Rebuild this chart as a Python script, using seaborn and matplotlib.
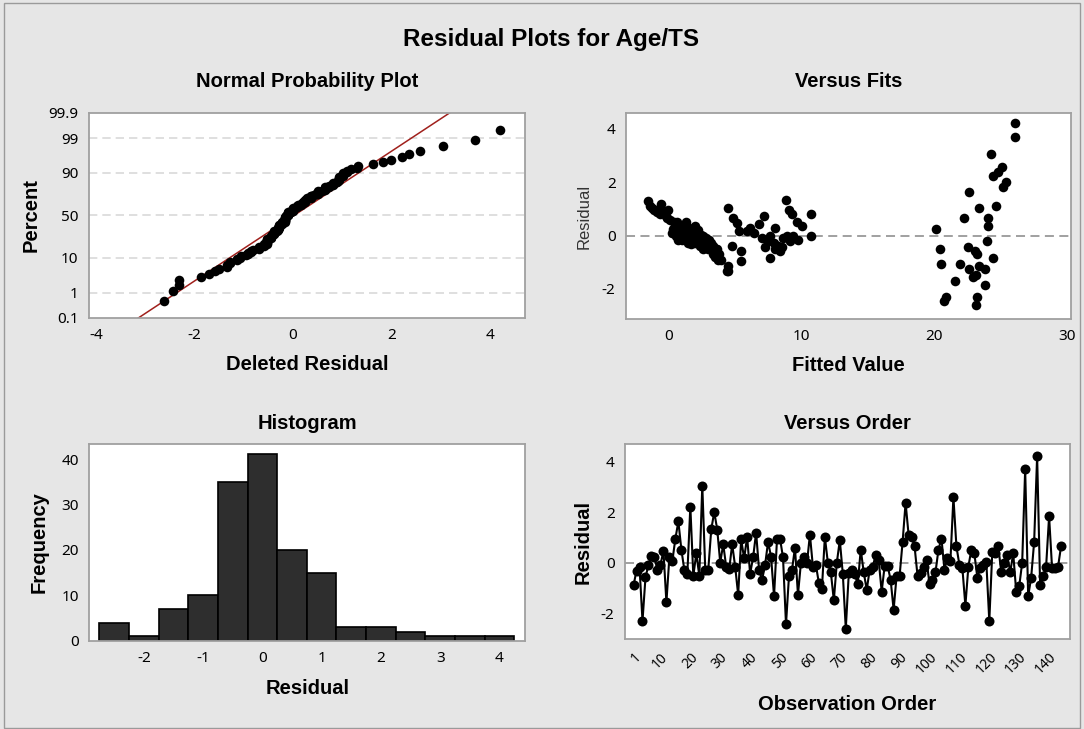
import numpy as np
import pandas as pd
import matplotlib
matplotlib.use("Agg")
import matplotlib.pyplot as plt
from matplotlib.patches import Rectangle
import seaborn as sns
from statistics import NormalDist

# ---------------- data ----------------
residual = [
    -0.90, -0.31, -0.16, -2.31, -0.58, -0.09, 0.27, 0.21, -0.27, -0.09,
    0.47, -1.57, 0.24, 0.08, 0.95, 1.63, 0.52, -0.29, -0.44, 2.22,
    -0.52, 0.37, -0.52, 3.05, -0.30, -0.28, 1.32, 2.00, 1.31, 0.00,
    0.73, -0.16, -0.26, 0.73, -0.16, -1.27, 0.92, 0.17, 1.02, -0.44,
    0.21, 1.19, -0.29, -0.68, -0.09, 0.82, 0.24, -1.33, 0.95, 0.95,
    0.21, -2.44, -0.52, -0.29, 0.59, -1.27, 0.00, 0.24, -0.03, 1.11,
    -0.16, -0.09, -0.81, -1.05, 1.02, 0.00, -0.38, -1.49, 0.00, 0.89,
    -0.44, -2.61, -0.42, -0.27, -0.45, -0.84, 0.52, -0.38, -1.07, -0.28,
    -0.16, 0.30, 0.10, -1.14, -0.13, -0.13, -0.68, -1.86, -0.52, -0.52,
    0.82, 2.37, 1.11, 1.02, 0.65, -0.52, -0.42, -0.16, 0.10, -0.84,
    -0.68, -0.38, 0.52, 0.95, -0.27, 0.17, 0.08, 2.59, 0.65, -0.09,
    -0.22, -1.70, -0.16, 0.52, 0.37, -0.59, -0.22, -0.09, 0.04, -2.31,
    0.43, 0.37, 0.65, -0.38, -0.03, 0.30, -0.38, 0.37, -1.14, -0.94,
    0.00, 3.70, -1.33, -0.59, 0.82, 4.22, -0.90, -0.52, -0.16, 1.83,
    -0.22, -0.22, -0.16, 0.65,
]

fitted = [
    3.73, 2.55, 0.70, 20.89, 8.39, 7.00, 7.96, 1.70, 1.45, 0.90,
    5.11, 22.95, 20.11, 0.20, 9.02, 22.65, 9.65, 7.88, 2.75, 24.40,
    2.60, 10.03, 3.55, 24.26, 1.65, 1.95, 8.84, 25.40, -1.61, 9.34,
    7.13, 1.80, 2.45, -0.25, 2.50, 22.65, -0.45, 5.31, 4.48, 7.25,
    0.75, -0.60, 2.25, 3.35, 2.00, 9.27, 0.30, 4.43, -1.11, -0.95,
    2.20, 20.70, 2.95, 3.20, 0.10, 23.83, 0.50, 1.10, 7.63, -1.44,
    1.00, 1.40, 3.50, 20.51, 23.33, 1.60, 4.73, 23.15, 2.60, -0.88,
    8.30, 23.15, 8.51, 2.70, 3.40, 24.40, 1.28, 2.35, 21.95, 2.85,
    2.90, 6.12, 6.42, 23.40, 1.20, 2.30, 3.80, 23.83, 8.00, 3.15,
    10.70, 24.80, 24.66, -1.30, 22.25, 3.65, 22.50, 9.70, 1.90, 7.58,
    23.25, 8.20, 0.40, -0.05, 3.10, 5.87, 1.30, 25.10, 24.08, 8.60,
    1.75, 21.57, 1.55, 0.60, 24.08, 5.42, 23.96, 2.80, 2.40, 23.25,
    6.75, 0.95, -0.18, 3.30, 8.89, 1.50, 2.65, 1.96, 4.43, 5.42,
    10.70, 26.10, 4.40, 23.08, -0.70, 26.10, 3.90, 20.39, 2.15, 25.20,
    7.50, 9.10, 3.00, 4.81,
]

hist_edges = [-2.75, -2.25, -1.75, -1.25, -0.75, -0.25, 0.25, 0.75,
              1.25, 1.75, 2.25, 2.75, 3.25, 3.75, 4.25]
prob_ticks = [0.1, 1, 10, 50, 90, 99, 99.9]
prob_labels = ["0.1", "1", "10", "50", "90", "99", "99.9"]
order_ticks = [1, 10, 20, 30, 40, 50, 60, 70, 80, 90, 100, 110, 120, 130, 140]

# ---------------- style ----------------
sns.set_theme(style="white")
plt.rcParams["font.family"] = ["Noto Sans", "DejaVu Sans"]
plt.rcParams["text.color"] = "black"
plt.rcParams["axes.labelcolor"] = "black"
plt.rcParams["axes.unicode_minus"] = False
BG = "#E6E6E6"
FRAME = "#A0A0A0"
BOLD_FAM = ["Liberation Sans", "DejaVu Sans"]
LABEL_FONT = dict(family=BOLD_FAM, weight="bold", size=14.5, color="black")
TITLE_FONT = dict(family=BOLD_FAM, weight="bold", size=14.5, color="black")

df = pd.DataFrame({"residual": residual, "fitted": fitted})
df["order"] = np.arange(1, len(df) + 1)

fig = plt.figure(figsize=(10.84, 7.29), dpi=100, facecolor=BG)
fig.add_artist(Rectangle((0.004, 0.002), 0.992, 0.994, transform=fig.transFigure,
                         fill=False, edgecolor="#9A9A9A", linewidth=1.0))

ax_npp = fig.add_axes([0.0821, 0.5638, 0.4022, 0.2812])
ax_fit = fig.add_axes([0.5775, 0.5624, 0.4105, 0.2826])
ax_hist = fig.add_axes([0.0824, 0.1211, 0.4019, 0.2698])
ax_ord = fig.add_axes([0.5766, 0.1230, 0.4105, 0.2679])


def style_axes(ax):
    ax.set_facecolor("white")
    for s in ax.spines.values():
        s.set_color(FRAME)
        s.set_linewidth(1.3)
        s.set_visible(True)
    ax.tick_params(axis="both", which="both", direction="out", length=4,
                   width=1, color=FRAME, labelsize=11, labelcolor="black")
    ax.grid(False)


# ---------------- Normal probability plot ----------------
nd = NormalDist()
res_sorted = np.sort(df["residual"].to_numpy())
n = len(res_sorted)
p = (np.arange(1, n + 1) - 0.3) / (n + 0.4)
zvals = np.array([nd.inv_cdf(pi) for pi in p])
mu = res_sorted.mean()
sd = res_sorted.std(ddof=1)
zlo, zhi = nd.inv_cdf(0.001), nd.inv_cdf(0.999)

style_axes(ax_npp)
for pt in prob_ticks[1:-1]:
    ax_npp.axhline(nd.inv_cdf(pt / 100), color="#D9D9D9", lw=1.2, ls=(0, (5, 3)), zorder=0)
zl = np.array([zlo - 0.2, zhi + 0.2])
ax_npp.plot(mu + sd * zl, zl, color="#A0201C", lw=1.1, zorder=2)
sns.scatterplot(x=res_sorted, y=zvals, ax=ax_npp, color="black", s=48,
                linewidth=0, zorder=3)
ax_npp.set_ylim(zlo, zhi)
ax_npp.set_xlim(-4.14, 4.72)
ax_npp.set_xticks([-4, -2, 0, 2, 4])
ax_npp.set_yticks([nd.inv_cdf(v / 100) for v in prob_ticks])
ax_npp.set_yticklabels(prob_labels)
ax_npp.set_title("Normal Probability Plot", pad=19, **TITLE_FONT)
ax_npp.set_xlabel("Deleted Residual", labelpad=8, **LABEL_FONT)
ax_npp.set_ylabel("Percent", labelpad=6, **LABEL_FONT)

# ---------------- Versus fits ----------------
style_axes(ax_fit)
ax_fit.axhline(0, color="#999999", lw=1.3, ls=(0, (5, 3)), zorder=1)
sns.scatterplot(data=df, x="fitted", y="residual", ax=ax_fit, color="black",
                s=48, linewidth=0, zorder=3)
ax_fit.set_xlim(-3.24, 30.3)
ax_fit.set_ylim(-3.13, 4.6)
ax_fit.set_xticks([0, 10, 20, 30])
ax_fit.set_yticks([-2, 0, 2, 4])
ax_fit.set_title("Versus Fits", pad=19, **TITLE_FONT)
ax_fit.set_xlabel("Fitted Value", labelpad=8, **LABEL_FONT)
ax_fit.set_ylabel("Residual", labelpad=7, family=BOLD_FAM, size=12, color="#333333")

# ---------------- Histogram ----------------
style_axes(ax_hist)
sns.histplot(data=df, x="residual", bins=hist_edges, ax=ax_hist, color="#2E2E2E",
             edgecolor="black", linewidth=1.2, alpha=1.0, zorder=2)
ax_hist.set_xlim(-2.92, 4.43)
ax_hist.set_ylim(0, 43.3)
ax_hist.set_xticks([-2, -1, 0, 1, 2, 3, 4])
ax_hist.set_yticks([0, 10, 20, 30, 40])
ax_hist.set_title("Histogram", pad=11, **TITLE_FONT)
ax_hist.set_xlabel("Residual", labelpad=9, **LABEL_FONT)
ax_hist.set_ylabel("Frequency", labelpad=9, **LABEL_FONT)

# ---------------- Versus order ----------------
style_axes(ax_ord)
ax_ord.axhline(0, color="#999999", lw=1.3, ls=(0, (5, 3)), zorder=1)
sns.lineplot(data=df, x="order", y="residual", ax=ax_ord, color="black", lw=1.5,
             marker="o", markersize=7.2, markeredgewidth=0, zorder=3)
ax_ord.set_xlim(-1.84, 147)
ax_ord.set_ylim(-3.03, 4.69)
ax_ord.set_xticks(order_ticks)
ax_ord.set_xticklabels([str(t) for t in order_ticks], rotation=45, ha="right",
                       rotation_mode="anchor", fontsize=10)
ax_ord.set_yticks([-2, 0, 2, 4])
ax_ord.set_title("Versus Order", pad=11, **TITLE_FONT)
ax_ord.set_xlabel("Observation Order", labelpad=13, **LABEL_FONT)
ax_ord.set_ylabel("Residual", labelpad=6, **LABEL_FONT)

fig.text(0.508, 0.946, "Residual Plots for Age/TS", ha="center", va="center",
         family=BOLD_FAM, weight="bold", size=17.5, color="black")

fig.savefig("out.png", dpi=100, facecolor=BG)
